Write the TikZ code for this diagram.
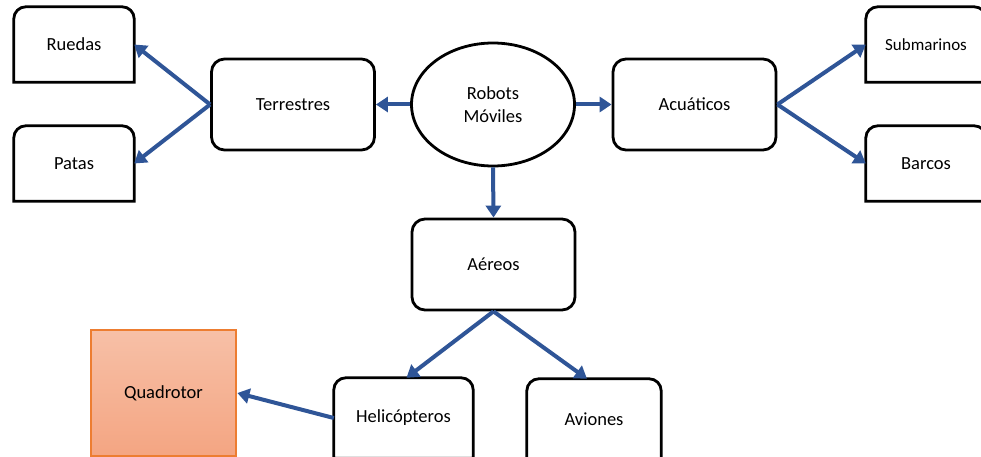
\documentclass[tikz,border=0pt]{standalone}
\usepackage{fontspec}
\setmainfont{Carlito}
\usetikzlibrary{arrows.meta,shapes.geometric}
\definecolor{arrowblue}{HTML}{2F5597}
\definecolor{quadedge}{HTML}{ED7D31}
\definecolor{quadtop}{HTML}{F7C0A7}
\definecolor{quadbot}{HTML}{F4A582}

% frame with rounded top corners and square bottom corners
\newcommand\tabframe[1]{%
  \draw[line width=2.8pt]
    (#1.south west) -- ([yshift=-12pt]#1.north west)
    arc[start angle=180,end angle=90,radius=12pt]
    -- ([xshift=-12pt]#1.north east)
    arc[start angle=90,end angle=0,radius=12pt]
    -- (#1.south east) -- cycle;}

\begin{document}
\begin{tikzpicture}[x=1pt,y=1pt,
  txt/.style={font=\fontsize{18.5}{22.5}\selectfont, align=center, inner sep=0pt},
  box/.style={txt, draw=black, line width=2.8pt, rounded corners=13pt,
              minimum width=163pt, minimum height=91pt},
  tabbox/.style={txt, minimum width=120pt, minimum height=75pt},
  link/.style={draw=arrowblue, line width=4pt, -{Triangle[length=12pt,width=15pt]}},
]
\useasboundingbox (0,0) rectangle (981,456);
\clip (0,0) rectangle (981,456);

% central category
\node[txt, ellipse, draw=black, line width=2.8pt,
      minimum width=163pt, minimum height=123pt] (robots) at (493,351.5) {Robots\\Móviles};

% main branches
\node[box] (terr) at (293,351.5) {Terrestres};
\node[box] (acua) at (694.5,351.5) {Acuáticos};
\node[box] (aereos) at (493.5,191.5) {Aéreos};

% leaves
\node[tabbox] (ruedas) at (74,411.5) {Ruedas};
\node[tabbox] (patas) at (74,292.5) {Patas};
\node[tabbox, font=\fontsize{17}{20}\selectfont] (subm) at (926,411.5) {Submarinos};
\node[tabbox] (barcos) at (926,292.5) {Barcos};
\node[tabbox, minimum width=139pt, minimum height=80pt] (helic) at (403.5,38) {Helicópteros};
\node[tabbox, minimum width=134pt, minimum height=80pt] (aviones) at (594,37) {Aviones};
\foreach \n in {ruedas,patas,subm,barcos,helic,aviones} {\tabframe{\n}}

% highlighted leaf
\node[txt, draw=quadedge, line width=2.8pt, top color=quadtop, bottom color=quadbot,
      minimum width=145pt, minimum height=126pt] (quad) at (163.5,63) {Quadrotor};

% connectors
\draw[link] (robots.west) -- (terr.east);
\draw[link] (robots.east) -- (acua.west);
\draw[link] (robots.south) -- (aereos.north);
\draw[link] (terr.west) -- (ruedas.east);
\draw[link] (terr.west) -- (patas.east);
\draw[link] (acua.east) -- (subm.west);
\draw[link] (acua.east) -- (barcos.west);
\draw[link] (aereos.south) -- ([xshift=3pt]helic.north);
\draw[link] (aereos.south) -- ([xshift=-7pt]aviones.north);
\draw[link] (helic.west) -- (quad.east);
\end{tikzpicture}
\end{document}
